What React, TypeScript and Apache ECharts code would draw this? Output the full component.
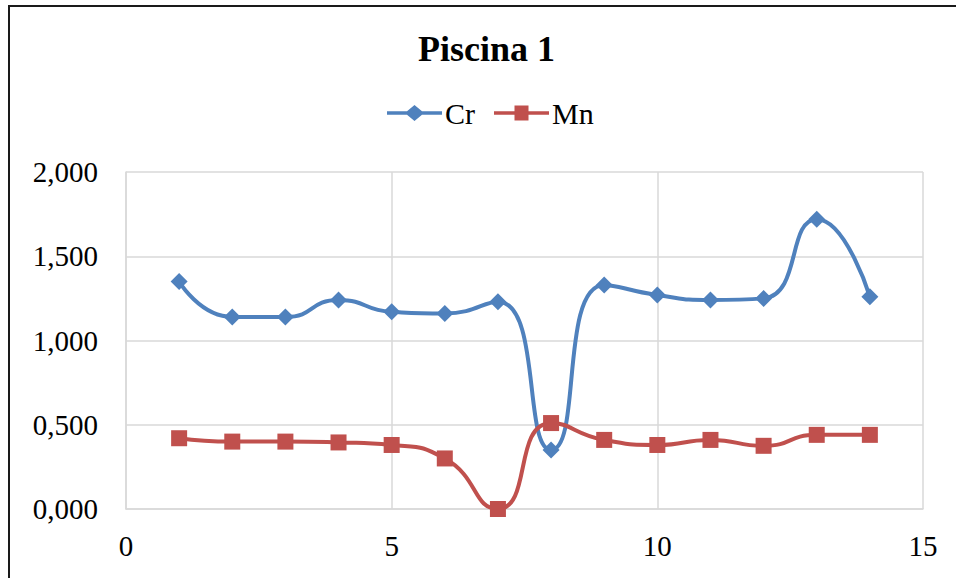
import React, { useEffect, useRef } from "react";
import * as echarts from "echarts";

const xValues = [1, 2, 3, 4, 5, 6, 7, 8, 9, 10, 11, 12, 13, 14];
const crValues = [1.35, 1.14, 1.14, 1.24, 1.17, 1.16, 1.23, 0.35, 1.33, 1.27, 1.24, 1.25, 1.72, 1.26];
const mnValues = [0.42, 0.40, 0.40, 0.395, 0.38, 0.30, 0.0, 0.51, 0.41, 0.38, 0.41, 0.375, 0.44, 0.44];
const titleText = "Piscina 1";
const seriesNames = ["Cr", "Mn"];

const FONT = "'Liberation Serif', 'Times New Roman', serif";

const CR_ICON =
  "path://M0 6.2L20 6.2L27.5 0L35 6.2L55 6.2L55 9.8L35 9.8L27.5 16L20 9.8L0 9.8Z";
const MN_ICON =
  "path://M0 6.2L20.5 6.2L20.5 0.5L34.5 0.5L34.5 6.2L55 6.2L55 9.8L34.5 9.8L34.5 15.5L20.5 15.5L20.5 9.8L0 9.8Z";

export default function App() {
  const ref = useRef<HTMLDivElement>(null);
  useEffect(() => {
    if (!ref.current) return;
    const chart = echarts.init(ref.current, undefined, { renderer: "svg" });
    const pair = (ys: number[]) => xValues.map((x, i) => [x, ys[i]]);
    chart.setOption({
      animation: false,
      backgroundColor: "#ffffff",
      textStyle: { fontFamily: FONT },
      title: {
        text: titleText,
        left: 418,
        top: 31,
        padding: 0,
        textStyle: { fontFamily: FONT, fontSize: 36, fontWeight: "bold", color: "#000" },
      },
      legend: {
        left: 387,
        top: 98,
        padding: 0,
        itemWidth: 55,
        itemHeight: 16,
        itemGap: 19,
        textStyle: { fontFamily: FONT, fontSize: 30, color: "#000", padding: [0, 0, 0, -2] },
        data: [
          { name: seriesNames[0], icon: CR_ICON },
          { name: seriesNames[1], icon: MN_ICON },
        ],
      },
      grid: { left: 126, right: 33, top: 172, bottom: 69, containLabel: false },
      xAxis: {
        type: "value",
        min: 0,
        max: 15,
        interval: 5,
        axisLine: { show: true, lineStyle: { color: "#d9d9d9", width: 1.5 } },
        axisTick: { show: false },
        splitLine: { show: true, lineStyle: { color: "#d9d9d9", width: 1.5 } },
        axisLabel: { fontFamily: FONT, fontSize: 29, color: "#000", margin: 22 },
      },
      yAxis: {
        type: "value",
        min: 0,
        max: 2,
        interval: 0.5,
        axisLine: { show: true, lineStyle: { color: "#d9d9d9", width: 1.5 } },
        axisTick: { show: false },
        splitLine: { show: true, lineStyle: { color: "#d9d9d9", width: 1.5 } },
        axisLabel: {
          fontFamily: FONT,
          fontSize: 29,
          color: "#000",
          margin: 28,
          formatter: (v: number) => v.toFixed(3).replace(".", ","),
        },
      },
      series: [
        {
          name: seriesNames[0],
          type: "line",
          data: pair(crValues),
          smooth: 0.55,
          symbol: "diamond",
          symbolSize: 17,
          color: "#4f81bd",
          lineStyle: { color: "#4f81bd", width: 4 },
          itemStyle: { color: "#4f81bd" },
        },
        {
          name: seriesNames[1],
          type: "line",
          data: pair(mnValues),
          smooth: 0.55,
          symbol: "rect",
          symbolSize: 16,
          color: "#c0504d",
          lineStyle: { color: "#c0504d", width: 4 },
          itemStyle: { color: "#c0504d" },
        },
      ],
      graphic: [
        {
          type: "rect",
          shape: { x: 9, y: 6, width: 1000, height: 700 },
          style: { fill: "none", stroke: "#1a1a1a", lineWidth: 2 },
          silent: true,
          z: 100,
        },
      ],
    });
    return () => chart.dispose();
  }, []);
  return (
    <div
      ref={ref}
      style={{ position: "fixed", left: 0, top: 0, width: 956, height: 578 }}
    />
  );
}
